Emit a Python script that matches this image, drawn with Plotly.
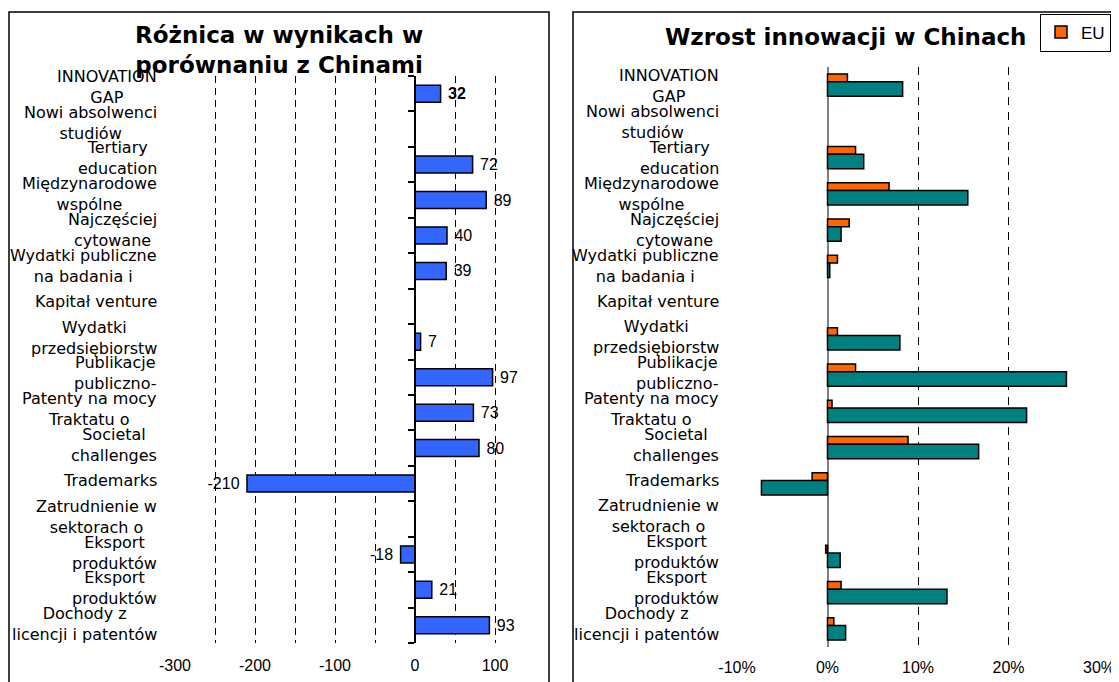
import plotly.graph_objects as go

# ---------------- data ----------------
categories = [
    "INNOVATION\nGAP",
    "Nowi absolwenci\nstudiów",
    "Tertiary\neducation",
    "Międzynarodowe\nwspólne",
    "Najczęściej\ncytowane",
    "Wydatki publiczne\nna badania i",
    "Kapitał venture",
    "Wydatki\nprzedsiębiorstw",
    "Publikacje\npubliczno-",
    "Patenty na mocy\nTraktatu o",
    "Societal\nchallenges",
    "Trademarks",
    "Zatrudnienie w\nsektorach o",
    "Eksport\nproduktów",
    "Eksport\nproduktów",
    "Dochody z\nlicencji i patentów",
]
gap_values = [32, None, 72, 89, 40, 39, None, 7, 97, 73, 80, -210, None, -18, 21, 93]
eu_growth = [2.2, None, 3.1, 6.8, 2.4, 1.1, None, 1.1, 3.1, 0.5, 8.9, -1.7, None, -0.2, 1.5, 0.7]
china_growth = [8.3, None, 4.0, 15.5, 1.5, 0.25, None, 8.0, 26.4, 22.0, 16.7, -7.3, None, 1.4, 13.2, 2.0]

title_left = "Różnica w wynikach w<br>porównaniu z Chinami"
title_right = "Wzrost innowacji w Chinach"
left_ticks = [-300, -200, -100, 0, 100]
left_ticktext = ["-300", "-200", "-100", "0", "100"]
right_ticks = [-10, 0, 10, 20, 30]
right_ticktext = ["-10%", "0%", "10%", "20%", "30%"]

# ---------------- layout geometry (page pixels; page body has an 8px margin) ----------------
OFF = 8
W, H = 1111, 674


def fx(p):
    return (p - OFF) / W


def fy(p):
    return 1 - (p - OFF) / H


L_X = [fx(175), fx(535)]
L_Y = [fy(643), fy(76)]
R_X = [fx(737), fx(1099)]
R_Y = [fy(647), fy(67)]
L_RANGE = [-300, 150]
R_RANGE = [-10, 30]

idx = list(range(len(categories)))
labels = [c.replace("\n", "<br>") for c in categories]

# data label texts
gap_text = []
for i, v in enumerate(gap_values):
    if v is None:
        gap_text.append("")
    else:
        s = str(v)
        if i == 0:
            s = "<b>" + s + "</b>"
        gap_text.append("\u00a0" + s if v >= 0 else s + "\u00a0")

fig = go.Figure()

fig.add_trace(go.Bar(
    y=idx, x=gap_values, orientation="h", width=0.48,
    marker=dict(color="#3366FF", line=dict(color="black", width=1.5)),
    text=gap_text, textposition="outside", cliponaxis=False, constraintext="none",
    textfont=dict(family="Arial, Liberation Sans", size=16, color="black"),
    showlegend=False, xaxis="x", yaxis="y", hoverinfo="skip",
))

fig.add_trace(go.Bar(
    y=idx, x=eu_growth, orientation="h", name="EU", width=0.22, offset=-0.31,
    marker=dict(color="#FF6600", line=dict(color="black", width=1.5)),
    xaxis="x2", yaxis="y2", hoverinfo="skip",
))
fig.add_trace(go.Bar(
    y=idx, x=china_growth, orientation="h", name="Chiny", width=0.40, offset=-0.09,
    marker=dict(color="#008080", line=dict(color="black", width=1.5)),
    showlegend=False, xaxis="x2", yaxis="y2", hoverinfo="skip",
))

zero_pos = L_X[0] + (0 - L_RANGE[0]) / (L_RANGE[1] - L_RANGE[0]) * (L_X[1] - L_X[0])
tickfont = dict(family="Arial, Liberation Sans", size=16, color="black")

fig.update_layout(
    width=W, height=H, autosize=False,
    margin=dict(l=0, r=0, t=0, b=0, pad=0),
    paper_bgcolor="white", plot_bgcolor="white",
    barmode="overlay",
    xaxis=dict(
        domain=L_X, range=L_RANGE, anchor="y", tickmode="array",
        tickvals=left_ticks, ticktext=left_ticktext,
        showgrid=True, gridcolor="black", gridwidth=1, griddash="7px,5px",
        minor=dict(tickvals=[-250, -150, -50, 50, 150], showgrid=True,
                   gridcolor="black", gridwidth=1, griddash="7px,5px"),
        zeroline=False, showline=False, ticks="", tickfont=tickfont,
        ticklabelstandoff=11, automargin=False,
    ),
    yaxis=dict(
        domain=L_Y, range=[15.5, -0.5], anchor="free", position=zero_pos, side="left",
        showgrid=False, zeroline=False, showline=True, linecolor="black", linewidth=1.5,
        ticks="outside", ticklen=6, tickcolor="black", tickwidth=1.5,
        tickmode="array", tickvals=[i - 0.5 for i in range(len(categories) + 1)],
        showticklabels=False, automargin=False,
    ),
    xaxis2=dict(
        domain=R_X, range=R_RANGE, anchor="y2", tickmode="array",
        tickvals=right_ticks, ticktext=right_ticktext,
        showgrid=True, gridcolor="black", gridwidth=1, griddash="8px,7px",
        zeroline=True, zerolinecolor="#808080", zerolinewidth=1.5,
        showline=False, ticks="", tickfont=tickfont, ticklabelstandoff=9,
        automargin=False,
    ),
    yaxis2=dict(
        domain=R_Y, range=[15.5, -0.5], anchor="x2",
        showgrid=False, zeroline=False, showline=False, showticklabels=False,
        automargin=False,
    ),
    legend=dict(
        x=fx(1040), y=fy(13.5), xanchor="left", yanchor="top",
        bordercolor="black", borderwidth=1, bgcolor="white",
        font=dict(family="Arial, Liberation Sans", size=17, color="black"),
        itemwidth=30,
    ),
)

annotations = []
label_font = dict(family="DejaVu Sans", size=16, color="black")
# category labels are laid out on a slightly different pitch than the bars
label_shift = {"y": (7.0, -0.4), "y2": (-1.3, 0.42)}
for dom, ax in ((L_X, "y"), (R_X, "y2")):
    a, b = label_shift[ax]
    for i, lab in enumerate(labels):
        annotations.append(dict(
            xref="paper", x=dom[0], xanchor="right", xshift=-16,
            yref=ax, y=i, yanchor="middle", yshift=a + b * i,
            text=lab, align="center", showarrow=False, font=label_font,
        ))

title_font = dict(family="DejaVu Sans", size=23, color="black", weight="bold")
annotations.append(dict(xref="paper", yref="paper", x=fx(279), y=fy(50),
                        xanchor="center", yanchor="middle", text=title_left,
                        showarrow=False, font=title_font, align="center"))
annotations.append(dict(xref="paper", yref="paper", x=fx(846), y=fy(37),
                        xanchor="center", yanchor="middle", text=title_right,
                        showarrow=False, font=title_font))
fig.update_layout(annotations=annotations)

fig.update_layout(shapes=[
    dict(type="rect", xref="paper", yref="paper", x0=fx(9), x1=fx(549),
         y0=-0.1, y1=fy(12), line=dict(color="black", width=1.5), layer="below"),
    dict(type="rect", xref="paper", yref="paper", x0=fx(573), x1=fx(1115),
         y0=-0.1, y1=fy(12), line=dict(color="black", width=1.5), layer="below"),
])

fig.write_html("out.html")
